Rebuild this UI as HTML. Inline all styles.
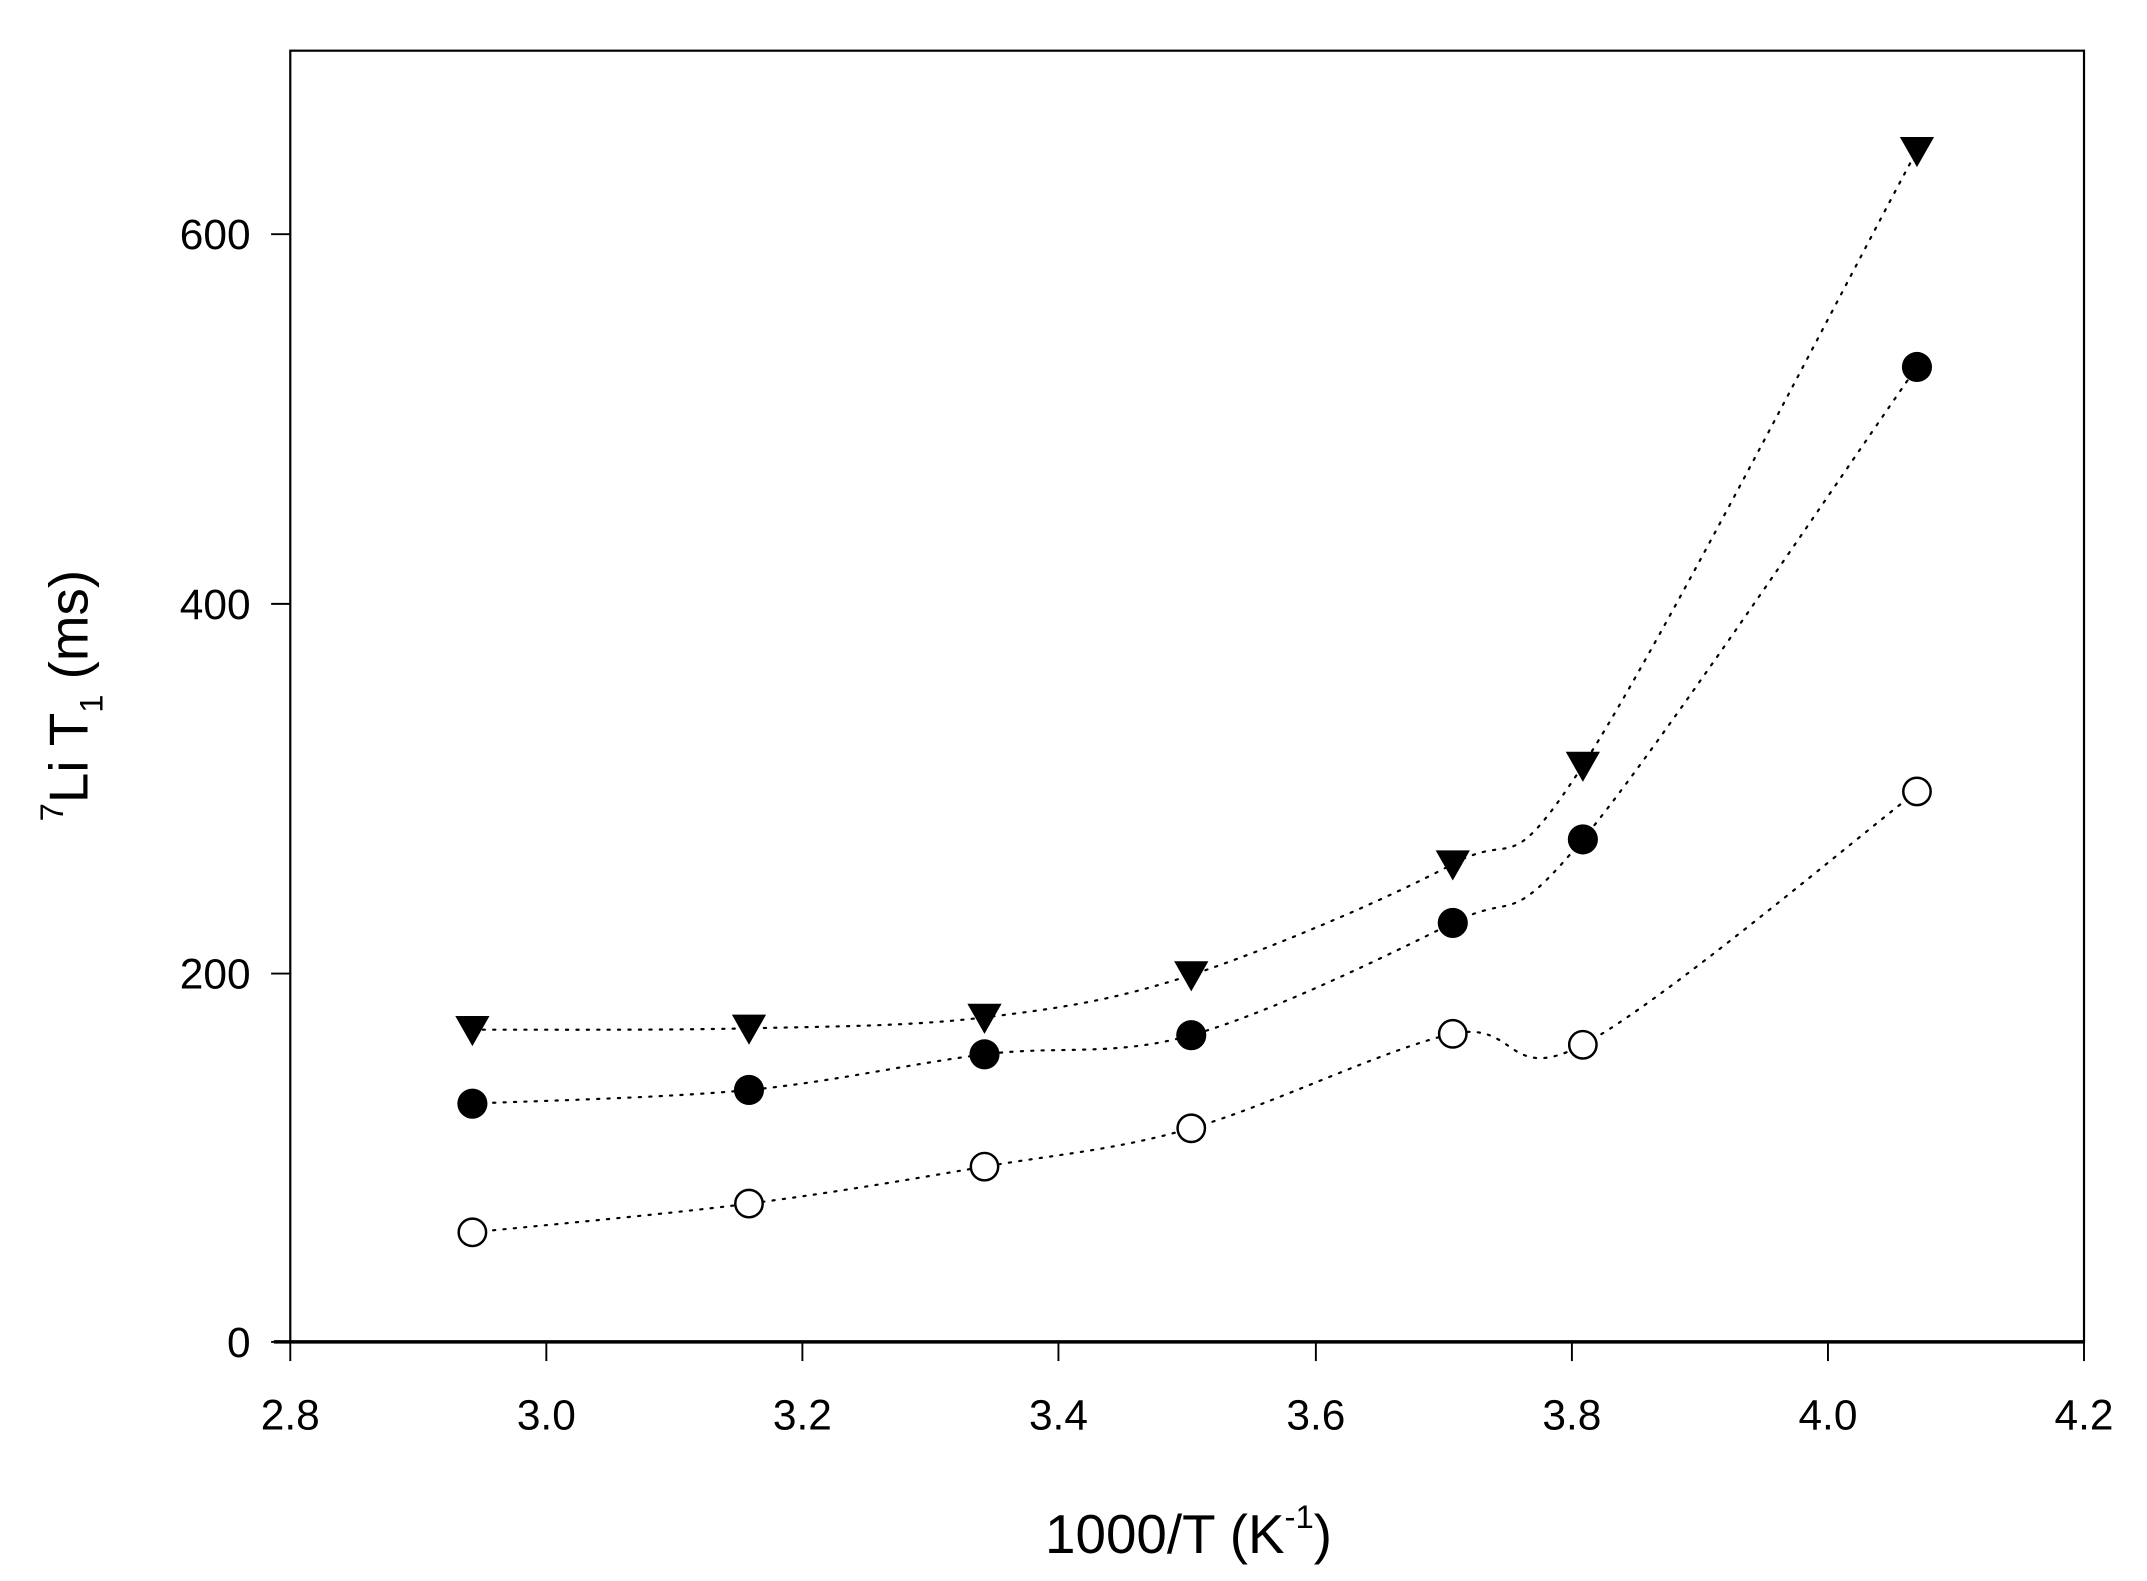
<!DOCTYPE html>
<html><head><meta charset="utf-8"><style>
html,body{margin:0;padding:0;background:#fff;}
svg{display:block;}
text{font-family:"Liberation Sans",Arial,sans-serif;fill:#000;}
</style></head><body>
<svg id="s" width="2147" height="1581" viewBox="0 0 1568 1154.6" xmlns="http://www.w3.org/2000/svg">
<rect x="0" y="0" width="1568" height="1155" fill="#fff"/>
<rect x="212" y="37" width="1310" height="943" fill="none" stroke="#000" stroke-width="1.6"/>
<line x1="200" y1="980" x2="1522" y2="980" stroke="#000" stroke-width="2.6"/>
<g stroke="#000" stroke-width="1.4">
<line x1="212" y1="980" x2="212" y2="994"/><line x1="399" y1="980" x2="399" y2="994"/>
<line x1="586" y1="980" x2="586" y2="994"/><line x1="773" y1="980" x2="773" y2="994"/>
<line x1="961" y1="980" x2="961" y2="994"/><line x1="1148" y1="980" x2="1148" y2="994"/>
<line x1="1335" y1="980" x2="1335" y2="994"/><line x1="1522" y1="980" x2="1522" y2="994"/>
<line x1="198" y1="980" x2="212" y2="980"/><line x1="198" y1="711" x2="212" y2="711"/>
<line x1="198" y1="441" x2="212" y2="441"/><line x1="198" y1="171" x2="212" y2="171"/>
</g>
<g font-size="31" text-anchor="middle">
<text x="212" y="1044">2.8</text><text x="399" y="1044">3.0</text><text x="586" y="1044">3.2</text>
<text x="773" y="1044">3.4</text><text x="961" y="1044">3.6</text><text x="1148" y="1044">3.8</text>
<text x="1335" y="1044">4.0</text><text x="1522" y="1044">4.2</text>
</g>
<g font-size="31" text-anchor="end">
<text x="183" y="991">0</text><text x="183" y="722">200</text><text x="183" y="452">400</text><text x="183" y="182">600</text>
</g>
<text x="868" y="1134" font-size="40" text-anchor="middle">1000/T (K<tspan font-size="24" dy="-18">-1</tspan><tspan dy="18">)</tspan></text>
<text transform="translate(64,508) rotate(-90)" font-size="40" text-anchor="middle"><tspan font-size="24" dy="-18">7</tspan><tspan dy="18">Li T</tspan><tspan font-size="24" dy="11">1</tspan><tspan dy="-11"> (ms)</tspan></text>
<g id="lines" fill="none" stroke="#000" stroke-width="1.6" stroke-dasharray="1.6 6" stroke-linecap="round"></g>
<g id="marks"></g>
</svg>
<script>
var T=[[345,752],[547,751],[719,743],[870,712],[1061,631],[1156,559],[1400,110]];
var F=[[345,806],[547,796],[719,770],[870,756],[1061,674],[1156,613],[1400,268]];
var O=[[345,900],[547,879],[719,852],[870,824],[1061,755],[1156,763],[1400,578]];
var ns="http://www.w3.org/2000/svg";
function path(p){var d="M"+p[0][0]+","+p[0][1];for(var i=0;i<p.length-1;i++){var p0=p[i-1]||p[i],p1=p[i],p2=p[i+1],p3=p[i+2]||p[i+1];
var c1=[p1[0]+(p2[0]-p0[0])/6,p1[1]+(p2[1]-p0[1])/6],c2=[p2[0]-(p3[0]-p1[0])/6,p2[1]-(p3[1]-p1[1])/6];
d+=" C"+c1+" "+c2+" "+p2;}return d;}
var L=document.getElementById("lines"),M=document.getElementById("marks");
[T,F,O].forEach(function(p){var e=document.createElementNS(ns,"path");e.setAttribute("d",path(p));L.appendChild(e);});
T.forEach(function(p){var e=document.createElementNS(ns,"polygon");e.setAttribute("points",(p[0]-12.5)+","+(p[1]-10)+" "+(p[0]+12.5)+","+(p[1]-10)+" "+p[0]+","+(p[1]+12));M.appendChild(e);});
F.forEach(function(p){var e=document.createElementNS(ns,"circle");e.setAttribute("cx",p[0]);e.setAttribute("cy",p[1]);e.setAttribute("r",11);M.appendChild(e);});
O.forEach(function(p){var e=document.createElementNS(ns,"circle");e.setAttribute("cx",p[0]);e.setAttribute("cy",p[1]);e.setAttribute("r",10);e.setAttribute("fill","#fff");e.setAttribute("stroke","#000");e.setAttribute("stroke-width","1.8");M.appendChild(e);});
</script>
</body></html>
